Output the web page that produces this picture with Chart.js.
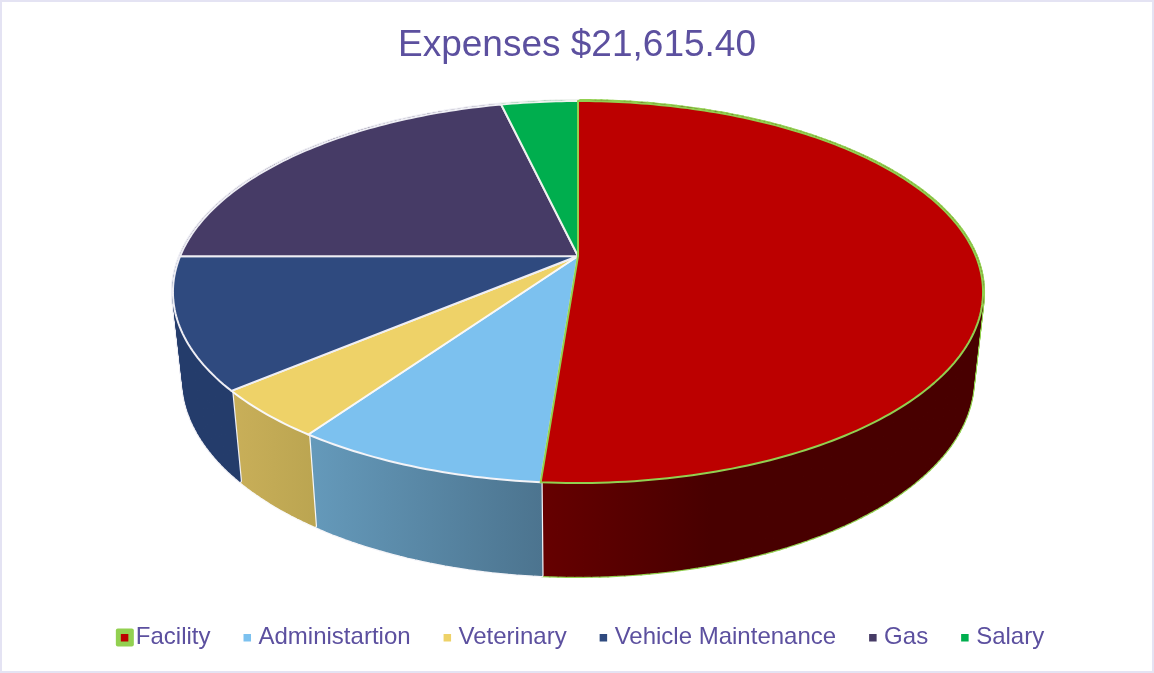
<!DOCTYPE html>
<html><head><meta charset="utf-8">
<style>html,body{margin:0;padding:0;background:#fff}#w{width:1154px;height:673px;position:relative}</style>
<script src="https://cdn.jsdelivr.net/npm/chart.js@4/dist/chart.umd.js"></script>
</head><body><div id="w"><canvas id="c" width="1154" height="673"></canvas></div>
<script>
const titleText = "Expenses $21,615.40";
const categories = ["Facility","Administartion","Veterinary","Vehicle Maintenance","Gas","Salary"];
const expenses = [11070, 1838, 900, 2400, 4614, 793.4];
const topColors = ["#bc0000","#7cc1ef","#eed268","#2f4a7f","#463b66","#00ae4e"];
const borderColors = ["#92d050","#f4f4f8","#f8f8f8","#eeeef4","#eeeef4","#eef2ee"];
const wallLeft = ["#660000","#659abb","#c9af59","#243c6b","#3a2e52","#008a3e"];
const wallRight = ["#480000","#4c748f","#bba551","#243c6b","#3a2e52","#008a3e"];
const textColor = "#5c509f";
const legendShift = 5.5;

// perspective of the tilted disc
const view = {x0:578, y0:256, a:184.2, c:-0.1885, d:397.8, sx:0.975, dy:93, ky:0.03, yRef:483};
const project = ang => {
  const u = Math.cos(ang), v = Math.sin(ang), w = 1 + view.c * v;
  return {x: view.x0 + view.d * u / w, y: view.y0 + view.a * v / w};
};
const lower = p => ({x: view.x0 + view.sx * (p.x - view.x0), y: p.y + view.dy + (p.y - view.yRef) * view.ky});
const steps = (s, e) => {
  const n = Math.max(2, Math.ceil((e - s) / (Math.PI / 180))), r = [];
  for (let i = 0; i <= n; i++) r.push(s + (e - s) * i / n);
  return r;
};

const pie3d = {
  id: 'pie3d',
  afterLayout(chart) {
    const lg = chart.legend;
    lg.left += legendShift; lg.right += legendShift;
    lg.legendHitBoxes.forEach(b => { b.left += legendShift; });
  },
  beforeDatasetDraw(chart, args) {
    const ctx = chart.ctx, arcs = args.meta.data;
    // walls: Facility first so neighbouring white seams lie over it
    arcs.forEach((arc, i) => {
      const {startAngle, endAngle} = arc.getProps(['startAngle','endAngle'], true);
      const pts = steps(startAngle, endAngle).map(project);
      const xs = pts.flatMap(p => [p.x, lower(p).x]);
      const x1 = Math.min(...xs), x2 = i === 0 ? Math.min(x1 + 170, Math.max(...xs)) : Math.max(...xs);
      const g = ctx.createLinearGradient(x1, 0, x2, 0);
      g.addColorStop(0, wallLeft[i]); g.addColorStop(1, wallRight[i]);
      const quad = (j) => {
        const a = pts[j], b = pts[j + 1], la = lower(a), lb = lower(b);
        ctx.beginPath(); ctx.moveTo(a.x, a.y); ctx.lineTo(b.x, b.y); ctx.lineTo(lb.x, lb.y); ctx.lineTo(la.x, la.y); ctx.closePath();
      };
      ctx.save();
      ctx.lineJoin = 'round';
      ctx.strokeStyle = arc.options.borderColor; ctx.lineWidth = 4;
      for (let j = 0; j < pts.length - 1; j++) { quad(j); ctx.stroke(); }
      ctx.fillStyle = g; ctx.strokeStyle = g; ctx.lineWidth = 1.6;
      for (let j = 0; j < pts.length - 1; j++) { quad(j); ctx.fill(); ctx.stroke(); }
      ctx.restore();
    });
    // top faces, Facility last
    const order = arcs.map((_, i) => i).slice(1).concat(0);
    order.forEach(i => {
      const arc = arcs[i];
      const {startAngle, endAngle} = arc.getProps(['startAngle','endAngle'], true);
      ctx.save();
      ctx.beginPath(); ctx.moveTo(view.x0, view.y0);
      steps(startAngle, endAngle).map(project).forEach(p => ctx.lineTo(p.x, p.y));
      ctx.closePath();
      ctx.fillStyle = arc.options.backgroundColor; ctx.fill();
      ctx.lineJoin = 'round';
      ctx.strokeStyle = arc.options.borderColor; ctx.lineWidth = arc.options.borderWidth; ctx.stroke();
      ctx.restore();
    });
    return false;
  },
  afterDraw(chart) {
    const ctx = chart.ctx, boxes = chart.legend.legendHitBoxes;
    ctx.save();
    boxes.forEach((b, i) => {
      const x = b.left, cy = b.top + b.height / 2 + 0.5;
      if (i === 0) {
        ctx.fillStyle = borderColors[0];
        ctx.beginPath(); ctx.roundRect(x - 5, cy - 9, 18, 18, 2); ctx.fill();
      }
      ctx.fillStyle = topColors[i];
      ctx.fillRect(x, cy - 3.5, 7.5, 7.5);
    });
    ctx.strokeStyle = '#e4e3f3'; ctx.lineWidth = 2;
    ctx.strokeRect(1, 1, chart.width - 2, chart.height - 2);
    ctx.restore();
  }
};

new Chart(document.getElementById('c'), {
  type: 'pie',
  plugins: [pie3d],
  data: {
    labels: categories,
    datasets: [{data: expenses, backgroundColor: topColors, borderColor: borderColors, borderWidth: 2}]
  },
  options: {
    responsive: false,
    animation: false,
    events: [],
    layout: {padding: {left: 2, right: 2, top: 2, bottom: 14}},
    plugins: {
      tooltip: {enabled: false},
      title: {display: true, text: titleText, color: textColor,
        font: {family: "'Liberation Sans'", size: 37, weight: 'normal'}, padding: {top: 22, bottom: 10}},
      legend: {position: 'bottom', labels: {
        boxWidth: 3, boxHeight: 8, padding: 33, color: textColor,
        font: {family: "'Liberation Sans'", size: 24},
        generateLabels: c => c.data.labels.map((t, i) => ({text: t, fillStyle: 'rgba(0,0,0,0)', strokeStyle: 'rgba(0,0,0,0)', lineWidth: 0, index: i, fontColor: textColor}))
      }}
    }
  }
});
</script></body></html>
